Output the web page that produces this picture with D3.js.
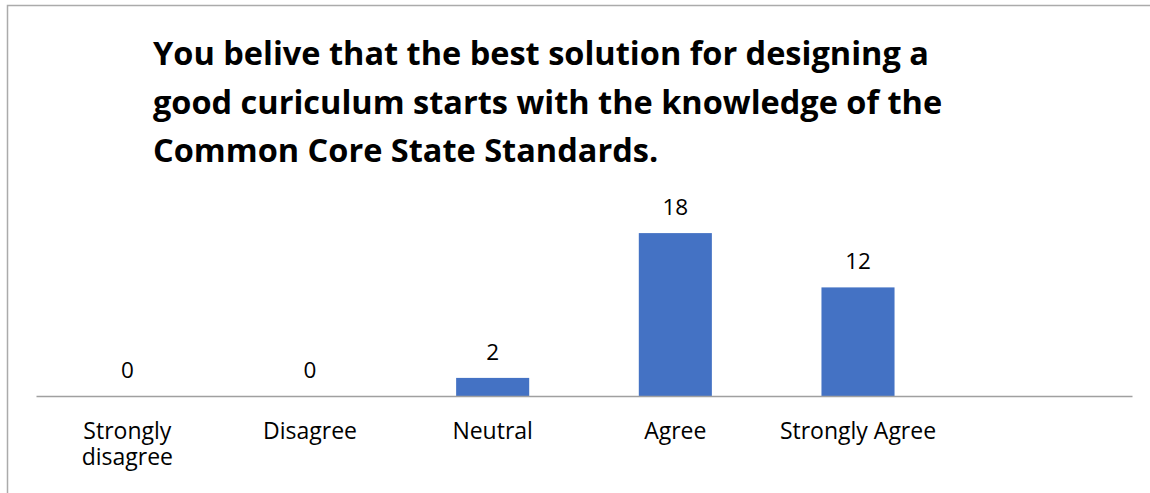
<!DOCTYPE html>
<html>
<head>
<meta charset="utf-8">
<script src="https://cdn.jsdelivr.net/npm/d3@7"></script>
<style>
  body { margin: 0; background: #fff; }
  svg { display: block; font-family: "Open Sans", "Noto Sans", sans-serif; }
</style>
</head>
<body>
<div id="chart"></div>
<script>
const titleLines = [
    "You belive that the best solution for designing a",
    "good curiculum starts with the knowledge of the",
    "Common Core State Standards."
];
// last slot is an empty category, the axis runs on past the last bar
const categories = ["Strongly disagree", "Disagree", "Neutral", "Agree", "Strongly Agree", ""];
const values = [0, 0, 2, 18, 12, null];

const W = 1150, H = 493;
const margin = {top: 215, right: 18, bottom: 97, left: 36};

const svg = d3.select("#chart")
    .append("svg")
    .attr("width", W)
    .attr("height", H);

// outer chart border (runs off the right and bottom of the picture)
svg.append("rect")
    .attr("x", 7.5)
    .attr("y", 5.5)
    .attr("width", 1300)
    .attr("height", 700)
    .style("fill", "none")
    .style("stroke", "#ababab")
    .style("stroke-width", 1.5);

const x = d3.scaleBand()
    .domain(categories)
    .range([margin.left, W - margin.right])
    .paddingInner(0.6)
    .paddingOuter(0.3);

const y = d3.scaleLinear()
    .domain([0, 20])
    .range([H - margin.bottom, margin.top]);

const data = categories.map((c, i) => ({cat: c, value: values[i]}));

// title
svg.append("text")
    .attr("x", 153)
    .attr("y", 65)
    .style("font-size", "32.5px")
    .style("font-weight", "bold")
    .style("fill", "#000")
    .selectAll("tspan")
    .data(titleLines)
    .enter()
    .append("tspan")
    .attr("x", 153)
    .attr("dy", (d, i) => i === 0 ? 0 : 48.5)
    .text(d => d);

// bars
svg.append("g")
    .selectAll("rect")
    .data(data.filter(d => d.value > 0))
    .enter()
    .append("rect")
    .attr("x", d => x(d.cat))
    .attr("y", d => y(d.value))
    .attr("width", x.bandwidth())
    .attr("height", d => y(0) - y(d.value))
    .style("fill", "#4472c4");

// baseline / category axis
const xAxis = svg.append("g")
    .attr("transform", `translate(0, ${y(0)})`)
    .call(d3.axisBottom(x).tickSize(0).tickFormat(""));
xAxis.select(".domain")
    .attr("stroke", "#a0a0a0")
    .attr("stroke-width", 1.5);

// value labels
svg.append("g")
    .selectAll("text")
    .data(data.filter(d => d.value !== null))
    .enter()
    .append("text")
    .attr("x", d => x(d.cat) + x.bandwidth() / 2)
    .attr("y", d => y(d.value) - 18)
    .attr("text-anchor", "middle")
    .style("font-size", "22.5px")
    .style("fill", "#000")
    .text(d => d.value);

// category labels, wrapped to the band width
const step = x.step();
const catLabels = svg.append("g")
    .selectAll("text")
    .data(categories.filter(c => c !== ""))
    .enter()
    .append("text")
    .attr("x", d => x(d) + x.bandwidth() / 2)
    .attr("y", y(0) + 43)
    .attr("text-anchor", "middle")
    .style("font-size", "23px")
    .style("fill", "#000");

catLabels.each(function (d) {
    const text = d3.select(this);
    const cx = text.attr("x");
    const words = d.split(" ");
    let line = [];
    let tspan = text.append("tspan").attr("x", cx).attr("dy", 0);
    words.forEach(w => {
        line.push(w);
        tspan.text(line.join(" "));
        if (tspan.node().getComputedTextLength() > step - 12 && line.length > 1) {
            line.pop();
            tspan.text(line.join(" "));
            line = [w];
            tspan = text.append("tspan").attr("x", cx).attr("dy", 26).text(w);
        }
    });
});
</script>
</body>
</html>
